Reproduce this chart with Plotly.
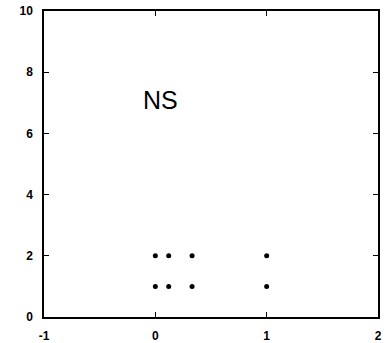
import plotly.graph_objects as go

x_vals = [0, 0.12, 0.33, 1, 0, 0.12, 0.33, 1]
y_vals = [2, 2, 2, 2, 1, 1, 1, 1]
x_ticks = [-1, 0, 1, 2]
y_ticks = [0, 2, 4, 6, 8, 10]
label_text = "NS"
label_x = 0.045
label_y = 7.1

fig = go.Figure()
fig.add_trace(go.Scatter(
    x=x_vals, y=y_vals, mode="markers",
    marker=dict(color="black", size=5),
    showlegend=False, hoverinfo="skip",
))
fig.add_annotation(
    x=label_x, y=label_y, text=label_text, showarrow=False,
    font=dict(family="Liberation Sans, Arial", size=25, color="black"),
    xanchor="center", yanchor="middle",
)

axis_common = dict(
    showgrid=False, zeroline=False, showline=True, linecolor="black",
    linewidth=1.5, mirror="ticks", ticks="inside", ticklen=5, tickwidth=1.2,
    tickcolor="black", automargin=False,
    tickfont=dict(family="Liberation Sans, Arial", size=12, color="black", weight="bold"),
)
fig.update_xaxes(range=[-1, 2], tickvals=x_ticks, ticktext=[str(v) for v in x_ticks],
                 ticklabelstandoff=7, **axis_common)
fig.update_yaxes(range=[0, 10], tickvals=y_ticks, ticktext=[str(v) for v in y_ticks],
                 ticklabelstandoff=7, **axis_common)
fig.update_layout(
    width=388, height=343,
    margin=dict(l=44, r=10, t=11, b=26, pad=0),
    plot_bgcolor="white", paper_bgcolor="white",
)
fig.write_html("out.html", config={"displayModeBar": False},
               post_script="document.body.style.margin='0';document.body.style.overflow='hidden';")
